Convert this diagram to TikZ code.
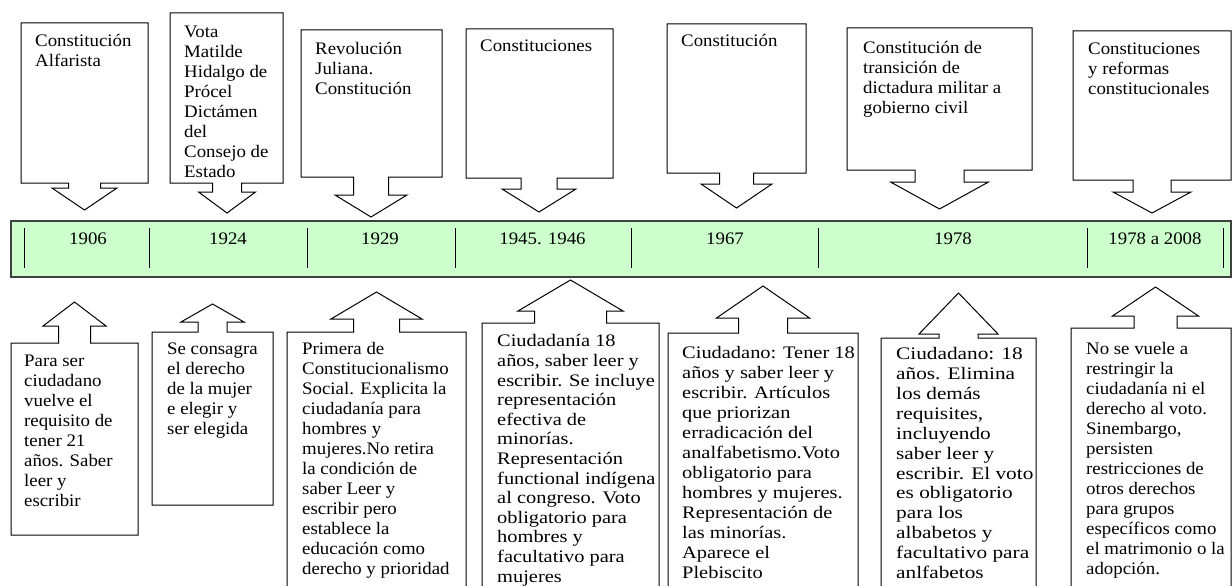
\documentclass[tikz,border=0pt]{standalone}
\usepackage{fontspec}
\setmainfont[FakeStretch=1.07]{Liberation Serif}
\newfontfamily\widefont[FakeStretch=1.16]{Liberation Serif}
\newfontfamily\widerfont[FakeStretch=1.21]{Liberation Serif}
\usepackage{tikz}
\usetikzlibrary{positioning}
\definecolor{bandgreen}{HTML}{CCFFCC}
\definecolor{bandedge}{HTML}{404040}

\begin{document}
\begin{tikzpicture}[x=1pt, y=-1pt,
	callout/.style={draw=black, line width=1pt, fill=white, line join=miter},
	band/.style={draw=bandedge, line width=1.3pt, fill=bandgreen}]
	\clip (0,0) rectangle (1232,586);
	\fill[white] (0,0) rectangle (1232,586);

	\draw[band] (11,221) rectangle (1231,277);
	\foreach \x in {24,149,307,455,631,818,1087,1223}
		\draw[line width=1pt] (\x,228) -- (\x,268);

	\foreach \l/\r/\f/\b/\c/\s/\n/\h/\p in {
		21/148/23/183/84.5/16/188/32.5/210,
		170/283/13/183/227/14.5/192/28.5/213,
		301/442/30/177/371/17.5/195/36/217,
		466/613/29/178/539/18/189/37/212,
		667/806/24/173/736.5/17/184/35.5/208,
		847/1032/28/170/939.5/24.5/182/49/209,
		1073/1231/31/180/1152/19/192/39/213,
		11/138/535/343/74.5/16/326/31.5/302,
		152/273/505/332/212.5/14.5/322/31.5/304,
		287/466/600/332/376.5/23/319/45.5/292,
		482/659/600/323/570.5/36/311/52.5/280,
		668/858/600/333/763/24.5/318/46.5/286,
		881/1036/600/338/958.5/19.5/334/39.5/293,
		1071/1231/600/328/1155.5/21.5/316/43/287}
		\draw[callout] (\l,\f) -- (\r,\f) -- (\r,\b) -- (\c+\s,\b) -- (\c+\s,\n) -- (\c+\h,\n)
			-- (\c,\p) -- (\c-\h,\n) -- (\c-\s,\n) -- (\c-\s,\b) -- (\l,\b) -- cycle;

	\begin{scope}[every node/.style={inner sep=0pt, font=\fontsize{17.6}{20}\selectfont}]
		\node[anchor=base] (y1906) at (88,244) {1906};
		\node[anchor=base] (y1924) at (228,244) {1924};
		\node[anchor=base] (y1929) at (380,244) {1929};
		\node[anchor=base] (y1945) at (542.5,244) {1945. 1946};
		\node[anchor=base] (y1967) at (725,244) {1967};
		\node[anchor=base] (y1978) at (953,244) {1978};
		\node[anchor=base] (y2008) at (1155,244) {1978 a 2008};
	\end{scope}

	\begin{scope}[every node/.style={inner sep=0pt, anchor=north west, align=left,
	              font=\fontsize{17.6}{20}\selectfont}]
		\node (t1906) at (35,34.5) {Constitución\\Alfarista};
		\node (t1924) at (184,25.5) {Vota\\Matilde\\Hidalgo de\\Prócel\\Dictámen\\del\\Consejo de\\Estado};
		\node (t1929) at (315,42.5) {Revolución\\Juliana.\\Constitución};
		\node (t1945) at (480,39.5) {Constituciones};
		\node (t1967) at (681,34.5) {Constitución};
		\node (t1978) at (863,41.5) {Constitución de\\transición de\\dictadura militar a\\gobierno civil};
		\node (t2008) at (1088,42.5) {Constituciones\\y reformas\\constitucionales};

		\node (b1906) at (24,354.5) {Para ser\\ciudadano\\vuelve el\\requisito de\\tener 21\\años. Saber\\leer y\\escribir};
		\node (b1924) at (167,342.5) {Se consagra\\el derecho\\de la mujer\\e elegir y\\ser elegida};
		\node (b1929) at (302,342.5) {Primera de\\Constitucionalismo\\Social. Explicita la\\ciudadanía para\\hombres y\\mujeres.No retira\\la condición de\\saber Leer y\\escribir pero\\establece la\\educación como\\derecho y prioridad};
		\node[font=\widefont\fontsize{17.6}{19.6}\selectfont] (b1945) at (497,334.5) {Ciudadanía 18\\años, saber leer y\\escribir. Se incluye\\representación\\efectiva de\\minorías.\\Representación\\functional indígena\\al congreso. Voto\\obligatorio para\\hombres y\\facultativo para\\mujeres};
		\node[font=\widefont\fontsize{17.6}{20}\selectfont] (b1967) at (682,346.5) {Ciudadano: Tener 18\\años y saber leer y\\escribir. Artículos\\que priorizan\\erradicación del\\analfabetismo.Voto\\obligatorio para\\hombres y mujeres.\\Representación de\\las minorías.\\Aparece el\\Plebiscito};
		\node[font=\widerfont\fontsize{17.6}{19.85}\selectfont] (b1978) at (896,347.5) {Ciudadano: 18\\años. Elimina\\los demás\\requisites,\\incluyendo\\saber leer y\\escribir. El voto\\es obligatorio\\para los\\albabetos y\\facultativo para\\anlfabetos};
		\node (b2008) at (1086,342.5) {No se vuele a\\restringir la\\ciudadanía ni el\\derecho al voto.\\Sinembargo,\\persisten\\restricciones de\\otros derechos\\para grupos\\específicos como\\el matrimonio o la\\adopción.};
	\end{scope}
\end{tikzpicture}
\end{document}
